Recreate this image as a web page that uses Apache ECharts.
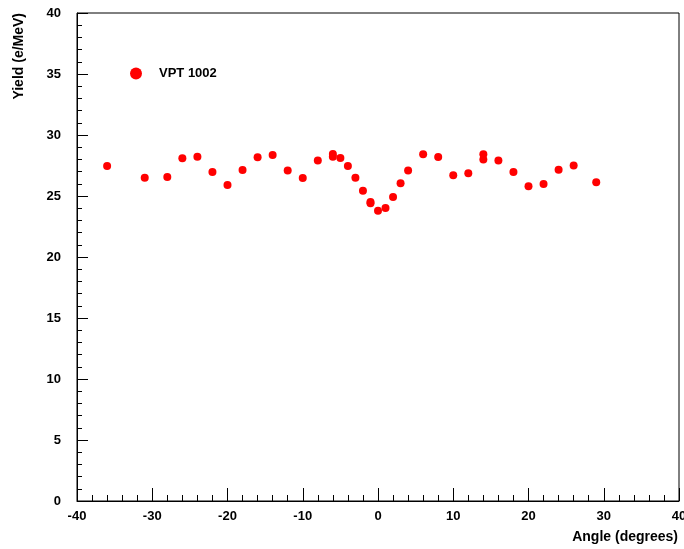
<!DOCTYPE html>
<html>
<head>
<meta charset="utf-8">
<script src="https://cdn.jsdelivr.net/npm/echarts@6/dist/echarts.min.js"></script>
<style>
  html, body { margin: 0; padding: 0; background: #fff; }
  #main { width: 684px; height: 549px; }
</style>
</head>
<body>
<div id="main"></div>
<script>
// angle (degrees) and yield (e/MeV)
var angles = [-36, -31, -28, -26, -24, -22, -20, -18, -16, -14, -12, -10, -8, -6, -6, -5, -4, -3, -2, -1, -1,
              0, 1, 2, 3, 4, 6, 8, 10, 12, 14, 14, 16, 18, 20, 22, 24, 26, 29];
var yields = [27.46, 26.5, 26.56, 28.09, 28.22, 26.97, 25.9, 27.13, 28.17, 28.36, 27.08, 26.48, 27.92, 28.44, 28.22, 28.11, 27.46, 26.5, 25.44, 24.5, 24.4,
              23.8, 24.02, 24.92, 26.04, 27.1, 28.42, 28.2, 26.7, 26.86, 28.42, 28.0, 27.9, 26.97, 25.8, 25.98, 27.16, 27.49, 26.12];
var seriesName = 'VPT 1002';

var font = '"Liberation Sans", Arial, Helvetica, sans-serif';

var chart = echarts.init(document.getElementById('main'));

var points = angles.map(function (a, i) { return [a, yields[i]]; });

var option = {
  animation: false,
  backgroundColor: '#fff',
  grid: {
    left: 77, top: 13, width: 602, height: 488,
    outerBoundsMode: 'none',
    containLabel: false,
    show: true, borderColor: '#000', borderWidth: 1, backgroundColor: 'transparent'
  },
  legend: {
    left: 125, top: 62,
    icon: 'circle',
    itemWidth: 12, itemHeight: 12,
    textStyle: { fontFamily: font, fontWeight: 'bold', fontSize: 13, color: '#000', padding: [0, 0, 0, 12] },
    data: [seriesName]
  },
  xAxis: {
    type: 'value', min: -40, max: 40, interval: 10,
    axisLine: { show: true, onZero: false, lineStyle: { color: '#000', width: 1 } },
    axisTick: { show: true, inside: true, length: 13, lineStyle: { color: '#000' } },
    minorTick: { show: true, splitNumber: 5, length: 6, lineStyle: { color: '#000' } },
    splitLine: { show: false },
    axisLabel: { margin: 9, fontFamily: font, fontWeight: 'bold', fontSize: 13, color: '#000', showMaxLabel: true, hideOverlap: false }
  },
  yAxis: {
    type: 'value', min: 0, max: 40, interval: 5,
    axisLine: { show: true, onZero: false, lineStyle: { color: '#000', width: 1 } },
    axisTick: { show: true, inside: true, length: 11, lineStyle: { color: '#000' } },
    minorTick: { show: true, splitNumber: 5, length: 5, lineStyle: { color: '#000' } },
    splitLine: { show: false },
    axisLabel: { margin: 16, fontFamily: font, fontWeight: 'bold', fontSize: 13, color: '#000' }
  },
  graphic: [
    {
      type: 'text', x: 19, y: 13, rotation: Math.PI / 2,
      style: { text: 'Yield (e/MeV)', font: 'bold 14px ' + font, fill: '#000', align: 'right', verticalAlign: 'middle' }
    },
    {
      type: 'text', x: 678, y: 537,
      style: { text: 'Angle (degrees)', font: 'bold 14px ' + font, fill: '#000', align: 'right', verticalAlign: 'middle' }
    }
  ],
  series: [
    {
      name: seriesName,
      type: 'scatter',
      symbol: 'circle',
      symbolSize: 8,
      itemStyle: { color: '#ff0000', opacity: 1 },
      data: points
    }
  ]
};

chart.setOption(option);
</script>
</body>
</html>
